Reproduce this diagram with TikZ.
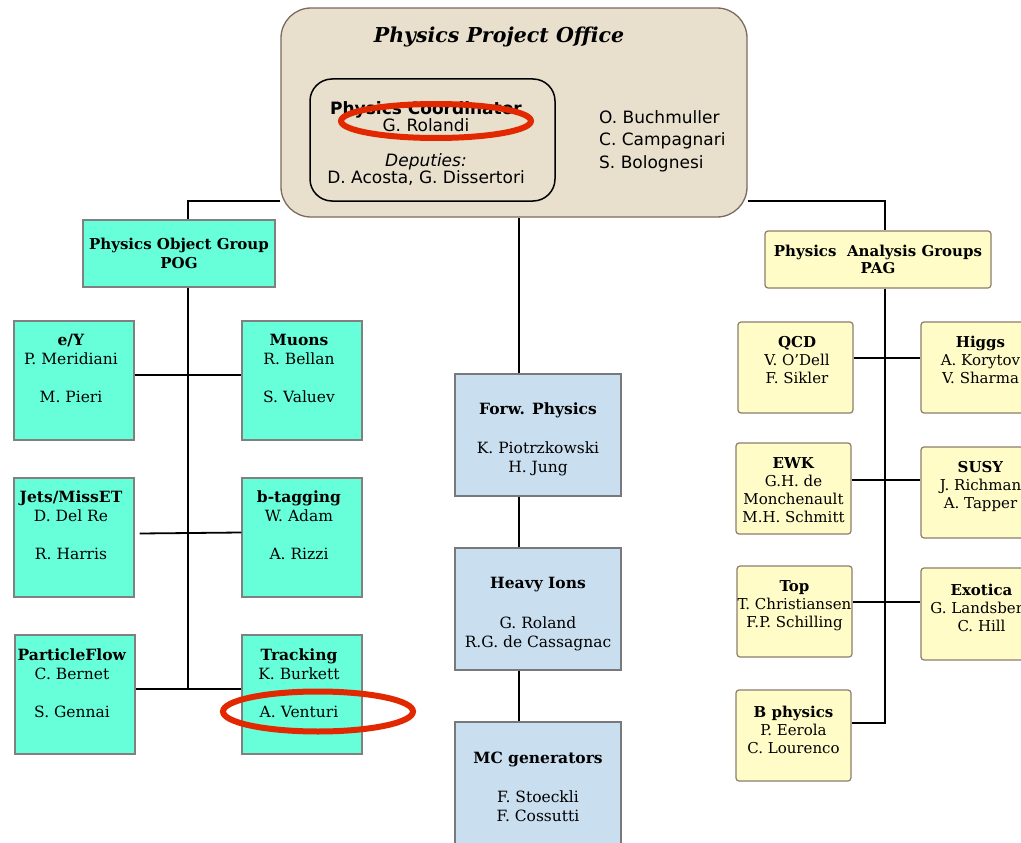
\documentclass[tikz,border=0pt]{standalone}
\usepackage{fontspec}
\setmainfont{DejaVu Serif}
\newfontfamily\sansf{DejaVu Sans}
\usetikzlibrary{positioning}

\definecolor{pogfill}{RGB}{102,255,218}
\definecolor{pogline}{RGB}{128,128,128}
\definecolor{midfill}{RGB}{201,222,239}
\definecolor{midline}{RGB}{120,120,125}
\definecolor{pagfill}{RGB}{255,252,200}
\definecolor{pagline}{RGB}{140,125,108}
\definecolor{ppofill}{RGB}{232,224,205}
\definecolor{ppoline}{RGB}{123,106,94}
\definecolor{markred}{RGB}{226,40,0}

\newcommand\sstrut{\rule{0pt}{14pt}}

\begin{document}
\begin{tikzpicture}[x=1pt,y=-1pt,
  conn/.style={draw=black,line width=1.8pt},
  pogbox/.style={rectangle,fill=pogfill,draw=pogline,line width=1.2pt,
    minimum width=120pt,minimum height=119pt,inner sep=0pt},
  midbox/.style={rectangle,fill=midfill,draw=midline,line width=1.2pt,
    minimum width=166pt,minimum height=122pt,inner sep=0pt},
  pagbox/.style={rectangle,rounded corners=3pt,fill=pagfill,draw=pagline,line width=1.2pt,
    minimum width=115pt,minimum height=91pt,inner sep=0pt},
  grptxt/.style={align=center,inner sep=0pt,font=\fontsize{15.5}{19}\selectfont,
    execute at begin node=\strut},
  pagtxt/.style={align=center,inner sep=0pt,font=\fontsize{15}{18}\selectfont,
    execute at begin node=\strut},
  ring/.style={draw=markred,line width=6pt}
]
\useasboundingbox (0,0) rectangle (1021,843);
\clip (0,0) rectangle (1021,843);

% ---- boxes -------------------------------------------------------------
\node[rectangle,rounded corners=30pt,fill=ppofill,draw=ppoline,line width=1.3pt,
  minimum width=466pt,minimum height=209pt] (ppo) at (514,112.5) {};
\node[rectangle,rounded corners=22pt,draw=black,line width=1.5pt,
  minimum width=245pt,minimum height=122pt] (coord) at (432.5,140) {};

\node[rectangle,fill=pogfill,draw=pogline,line width=1.2pt,minimum width=192pt,
  minimum height=67pt,inner sep=0pt,align=center,font=\fontsize{15}{19}\selectfont\bfseries]
  (pog) at (179,253.5) {Physics Object Group\\POG};

\node[pogbox] (ey)    at (74,380.5)  {};
\node[pogbox] (muon)  at (302,380.5) {};
\node[pogbox] (jets)  at (74,537.5)  {};
\node[pogbox] (btag)  at (302,537.5) {};
\node[pogbox] (pflow) at (75,694.5)  {};
\node[pogbox] (trk)   at (302,694.5) {};

\node[midbox] (fwd) at (538,435) {};
\node[midbox] (hi)  at (538,609) {};
\node[midbox] (mc)  at (538,783) {};

\node[rectangle,rounded corners=3pt,fill=pagfill,draw=pagline,line width=1.2pt,
  minimum width=226pt,minimum height=57pt,inner sep=0pt,align=center,
  font=\fontsize{15}{17}\selectfont\bfseries]
  (pag) at (878,259.5) {Physics\ \ Analysis Groups\\PAG};

\node[pagbox] (qcd)   at (795.5,367.5) {};
\node[pagbox,minimum width=119pt] (higgs) at (980.5,367.5) {};
\node[pagbox] (ewk)   at (793.5,488.5) {};
\node[pagbox,minimum width=119pt] (susy)  at (980.5,492.5) {};
\node[pagbox] (top)   at (794.5,611.5) {};
\node[pagbox,minimum width=119pt,minimum height=92pt] (exo) at (980.5,614) {};
\node[pagbox] (bph)   at (793.5,735.5) {};

% ---- connectors ----------------------------------------------------------
\coordinate (ppoL) at ([yshift=-88.5pt]ppo.west);
\coordinate (pogtop) at ([xshift=9pt]pog.north);
\coordinate (pogspine) at ([xshift=9pt]pog.south);
\coordinate (ppoR) at ([yshift=-88.5pt]ppo.east);
\coordinate (pagtop) at ([xshift=7pt]pag.north);
\coordinate (pagspine) at ([xshift=7pt]pag.south);
\coordinate (midx) at (519,0);
\coordinate (trkjoin) at ([yshift=5.5pt]trk.west);
\coordinate (bjoin) at ([yshift=12.5pt]bph.east);

\draw[conn] (ppoL) -| (pogtop);
\draw[conn] (ppoR) -| (pagtop);
\draw[conn] (pogspine) -- (pogspine |- trkjoin);
\draw[conn] ([yshift=5.5pt]ey.east) -- ([yshift=5.5pt]muon.west);
\draw[conn] ([xshift=5pt,yshift=4pt]jets.east) -- ([yshift=5pt]btag.west);
\draw[conn] ([yshift=5.5pt]pflow.east) -- (trkjoin);

\draw[conn,line width=1.5pt] (ppo.south -| midx) -- (fwd.north -| midx);
\draw[conn,line width=1.5pt] (fwd.south -| midx) -- (hi.north -| midx);
\draw[conn,line width=1.5pt] (hi.south -| midx) -- (mc.north -| midx);

\draw[conn] (pagspine) |- (bjoin);
\draw[conn] ([yshift=9.5pt]qcd.east) -- ([yshift=9.5pt]qcd.east -| higgs.west);
\draw[conn] ([yshift=8.5pt]ewk.east) -- ([yshift=8.5pt]ewk.east -| susy.west);
\draw[conn] ([yshift=9.5pt]top.east) -- ([yshift=9.5pt]top.east -| exo.west);

% ---- texts of the project office -----------------------------------------
\node[anchor=base,inner sep=0pt,font=\fontsize{20.5}{24}\selectfont\bfseries\itshape]
  (title) at (499,43) {Physics Project Office};
\node[anchor=north,inner sep=0pt,align=center,font=\sansf\fontsize{17}{17}\selectfont]
  (coordt) at (426,100) {\sstrut\textbf{Physics Coordinator}\\G. Rolandi\\[18pt]
  \textit{Deputies:}\\D. Acosta, G. Dissertori};
\node[anchor=north west,inner sep=0pt,align=left,font=\sansf\fontsize{17}{22.5}\selectfont,
  execute at begin node=\strut]
  (conv) at (599,110) {O. Buchmuller\\C. Campagnari\\S. Bolognesi};

% ---- texts of the object groups ------------------------------------------
\node[grptxt,below=14pt of ey.north,xshift=-3pt] (eyt) {\textbf{e/Y}\\P. Meridiani\\[19pt]M. Pieri};
\node[grptxt,below=14pt of muon.north,xshift=-3pt] (muont) {\textbf{Muons}\\R. Bellan\\[19pt]S. Valuev};
\node[grptxt,below=13.5pt of jets.north,xshift=-3pt] (jetst) {\textbf{Jets/MissET}\\D. Del Re\\[19pt]R. Harris};
\node[grptxt,below=13.5pt of btag.north,xshift=-3pt] (btagt) {\textbf{b-tagging}\\W. Adam\\[19pt]A. Rizzi};
\node[grptxt,below=14pt of pflow.north,xshift=-3pt] (pflowt) {\textbf{ParticleFlow}\\C. Bernet\\[19pt]S. Gennai};
\node[grptxt,below=14pt of trk.north,xshift=-3pt] (trkt) {\textbf{Tracking}\\K. Burkett\\[19pt]A. Venturi};

% ---- texts of the central groups -----------------------------------------
\node[grptxt,below=29pt of fwd.north] (fwdt) {\textbf{Forw. Physics}\\[20.5pt]K. Piotrzkowski\\H. Jung};
\node[grptxt,below=30pt of hi.north] (hit) {\textbf{Heavy Ions}\\[20.5pt]G. Roland\\R.G. de Cassagnac};
\node[grptxt,below=30pt of mc.north] (mct) {\textbf{MC generators}\\[20.5pt]F. Stoeckli\\F. Cossutti};

% ---- texts of the analysis groups ----------------------------------------
\node[pagtxt,below=15pt of qcd.north,xshift=1.5pt] (qcdt) {\textbf{QCD}\\V. O'Dell\\F. Sikler};
\node[pagtxt,below=15pt of higgs.north] (higgst) {\textbf{Higgs}\\A. Korytov\\V. Sharma};
\node[pagtxt,below=15pt of ewk.north] (ewkt) {\textbf{EWK}\\G.H. de\\Monchenault\\M.H. Schmitt};
\node[pagtxt,below=14.5pt of susy.north] (susyt) {\textbf{SUSY}\\J. Richman\\A. Tapper};
\node[pagtxt,below=15pt of top.north] (topt) {\textbf{Top}\\T. Christiansen\\F.P. Schilling};
\node[pagtxt,below=16pt of exo.north,xshift=1pt] (exot) {\textbf{Exotica}\\G. Landsberg\\C. Hill};
\node[pagtxt,below=16.5pt of bph.north] (bpht) {\textbf{B physics}\\P. Eerola\\C. Lourenco};

% ---- highlight rings -----------------------------------------------------
\draw[ring] (436,121) ellipse [x radius=95, y radius=17];
\draw[ring] (318,711.5) ellipse [x radius=95, y radius=20];
\end{tikzpicture}
\end{document}
